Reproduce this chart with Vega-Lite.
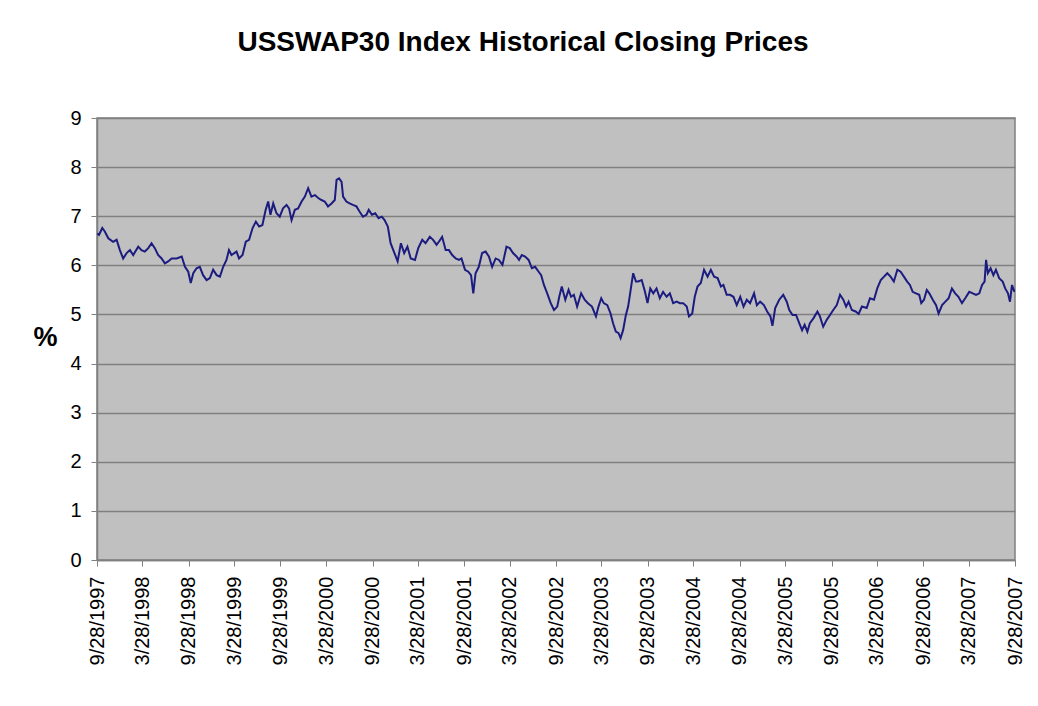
{
  "$schema": "https://vega.github.io/schema/vega-lite/v6.json",
  "autosize": {"type": "none"},
  "padding": {"left": 97, "top": 118, "right": 23, "bottom": 146},
  "width": 918,
  "height": 442,
  "background": "white",
  "title": {
    "text": "USSWAP30 Index Historical Closing Prices",
    "font": "Liberation Sans",
    "fontSize": 28,
    "fontWeight": "bold",
    "color": "black",
    "anchor": "middle",
    "dx": -33,
    "offset": 51
  },
  "config": {
    "view": {"fill": "#c0c0c0", "stroke": "#808080", "strokeWidth": 1.5},
    "axis": {"labelFont": "Liberation Sans", "titleFont": "Liberation Sans", "labelColor": "black"}
  },
  "data": {
    "values": [
      {"date": "1997-09-29", "rate": 6.65},
      {"date": "1997-10-06", "rate": 6.62},
      {"date": "1997-10-19", "rate": 6.76},
      {"date": "1997-10-29", "rate": 6.69},
      {"date": "1997-11-12", "rate": 6.55},
      {"date": "1997-12-01", "rate": 6.48},
      {"date": "1997-12-15", "rate": 6.52},
      {"date": "1997-12-28", "rate": 6.31},
      {"date": "1998-01-10", "rate": 6.14},
      {"date": "1998-01-24", "rate": 6.25},
      {"date": "1998-02-06", "rate": 6.31},
      {"date": "1998-02-19", "rate": 6.21},
      {"date": "1998-03-11", "rate": 6.38},
      {"date": "1998-03-24", "rate": 6.31},
      {"date": "1998-04-06", "rate": 6.28},
      {"date": "1998-04-20", "rate": 6.35},
      {"date": "1998-05-03", "rate": 6.45},
      {"date": "1998-05-16", "rate": 6.35},
      {"date": "1998-05-29", "rate": 6.21},
      {"date": "1998-06-12", "rate": 6.14},
      {"date": "1998-06-25", "rate": 6.04},
      {"date": "1998-07-08", "rate": 6.08},
      {"date": "1998-07-22", "rate": 6.14},
      {"date": "1998-08-11", "rate": 6.14},
      {"date": "1998-08-31", "rate": 6.18},
      {"date": "1998-09-13", "rate": 5.97},
      {"date": "1998-09-26", "rate": 5.87},
      {"date": "1998-10-06", "rate": 5.64},
      {"date": "1998-10-16", "rate": 5.84},
      {"date": "1998-10-29", "rate": 5.94},
      {"date": "1998-11-11", "rate": 5.97},
      {"date": "1998-11-24", "rate": 5.80},
      {"date": "1998-12-08", "rate": 5.70},
      {"date": "1998-12-21", "rate": 5.74},
      {"date": "1999-01-03", "rate": 5.91},
      {"date": "1999-01-17", "rate": 5.80},
      {"date": "1999-01-30", "rate": 5.77},
      {"date": "1999-02-12", "rate": 5.97},
      {"date": "1999-02-25", "rate": 6.11},
      {"date": "1999-03-07", "rate": 6.31},
      {"date": "1999-03-17", "rate": 6.21},
      {"date": "1999-04-06", "rate": 6.28},
      {"date": "1999-04-16", "rate": 6.14},
      {"date": "1999-04-30", "rate": 6.21},
      {"date": "1999-05-13", "rate": 6.48},
      {"date": "1999-05-26", "rate": 6.52},
      {"date": "1999-06-09", "rate": 6.76},
      {"date": "1999-06-22", "rate": 6.89},
      {"date": "1999-07-05", "rate": 6.79},
      {"date": "1999-07-18", "rate": 6.82},
      {"date": "1999-07-31", "rate": 7.13},
      {"date": "1999-08-10", "rate": 7.30},
      {"date": "1999-08-19", "rate": 7.03},
      {"date": "1999-08-30", "rate": 7.26},
      {"date": "1999-09-12", "rate": 7.06},
      {"date": "1999-09-25", "rate": 6.99},
      {"date": "1999-10-08", "rate": 7.16},
      {"date": "1999-10-22", "rate": 7.23},
      {"date": "1999-11-01", "rate": 7.16},
      {"date": "1999-11-11", "rate": 6.92},
      {"date": "1999-11-24", "rate": 7.13},
      {"date": "1999-12-07", "rate": 7.16},
      {"date": "1999-12-21", "rate": 7.30},
      {"date": "2000-01-03", "rate": 7.40},
      {"date": "2000-01-16", "rate": 7.57},
      {"date": "2000-01-29", "rate": 7.40},
      {"date": "2000-02-12", "rate": 7.43},
      {"date": "2000-02-25", "rate": 7.37},
      {"date": "2000-03-09", "rate": 7.33},
      {"date": "2000-03-22", "rate": 7.30},
      {"date": "2000-04-04", "rate": 7.20},
      {"date": "2000-04-18", "rate": 7.26},
      {"date": "2000-05-01", "rate": 7.33},
      {"date": "2000-05-08", "rate": 7.74},
      {"date": "2000-05-18", "rate": 7.77},
      {"date": "2000-05-28", "rate": 7.70},
      {"date": "2000-06-03", "rate": 7.40},
      {"date": "2000-06-16", "rate": 7.30},
      {"date": "2000-06-29", "rate": 7.26},
      {"date": "2000-07-12", "rate": 7.23},
      {"date": "2000-07-26", "rate": 7.20},
      {"date": "2000-08-08", "rate": 7.09},
      {"date": "2000-08-21", "rate": 6.99},
      {"date": "2000-09-04", "rate": 7.03},
      {"date": "2000-09-13", "rate": 7.13},
      {"date": "2000-09-26", "rate": 7.03},
      {"date": "2000-10-09", "rate": 7.06},
      {"date": "2000-10-22", "rate": 6.96},
      {"date": "2000-11-04", "rate": 6.99},
      {"date": "2000-11-15", "rate": 6.92},
      {"date": "2000-11-28", "rate": 6.79},
      {"date": "2000-12-09", "rate": 6.45},
      {"date": "2000-12-22", "rate": 6.28},
      {"date": "2001-01-06", "rate": 6.08},
      {"date": "2001-01-19", "rate": 6.45},
      {"date": "2001-02-01", "rate": 6.25},
      {"date": "2001-02-14", "rate": 6.38},
      {"date": "2001-02-27", "rate": 6.14},
      {"date": "2001-03-16", "rate": 6.11},
      {"date": "2001-03-29", "rate": 6.35},
      {"date": "2001-04-14", "rate": 6.52},
      {"date": "2001-04-27", "rate": 6.45},
      {"date": "2001-05-14", "rate": 6.58},
      {"date": "2001-05-27", "rate": 6.52},
      {"date": "2001-06-10", "rate": 6.42},
      {"date": "2001-06-19", "rate": 6.48},
      {"date": "2001-07-02", "rate": 6.58},
      {"date": "2001-07-16", "rate": 6.31},
      {"date": "2001-07-29", "rate": 6.31},
      {"date": "2001-08-11", "rate": 6.21},
      {"date": "2001-08-25", "rate": 6.14},
      {"date": "2001-09-07", "rate": 6.11},
      {"date": "2001-09-17", "rate": 6.14},
      {"date": "2001-10-01", "rate": 5.91},
      {"date": "2001-10-14", "rate": 5.87},
      {"date": "2001-10-25", "rate": 5.80},
      {"date": "2001-11-03", "rate": 5.43},
      {"date": "2001-11-12", "rate": 5.84},
      {"date": "2001-11-25", "rate": 5.97},
      {"date": "2001-12-08", "rate": 6.25},
      {"date": "2001-12-22", "rate": 6.28},
      {"date": "2002-01-04", "rate": 6.18},
      {"date": "2002-01-17", "rate": 5.97},
      {"date": "2002-01-31", "rate": 6.14},
      {"date": "2002-02-13", "rate": 6.11},
      {"date": "2002-02-27", "rate": 6.01},
      {"date": "2002-03-15", "rate": 6.38},
      {"date": "2002-03-28", "rate": 6.35},
      {"date": "2002-04-10", "rate": 6.25},
      {"date": "2002-04-24", "rate": 6.18},
      {"date": "2002-05-04", "rate": 6.11},
      {"date": "2002-05-15", "rate": 6.21},
      {"date": "2002-05-28", "rate": 6.18},
      {"date": "2002-06-11", "rate": 6.11},
      {"date": "2002-06-24", "rate": 5.94},
      {"date": "2002-07-07", "rate": 5.97},
      {"date": "2002-07-21", "rate": 5.87},
      {"date": "2002-07-31", "rate": 5.80},
      {"date": "2002-08-11", "rate": 5.60},
      {"date": "2002-08-24", "rate": 5.43},
      {"date": "2002-09-07", "rate": 5.23},
      {"date": "2002-09-20", "rate": 5.09},
      {"date": "2002-10-03", "rate": 5.16},
      {"date": "2002-10-11", "rate": 5.36},
      {"date": "2002-10-21", "rate": 5.57},
      {"date": "2002-11-04", "rate": 5.30},
      {"date": "2002-11-17", "rate": 5.50},
      {"date": "2002-11-27", "rate": 5.36},
      {"date": "2002-12-08", "rate": 5.40},
      {"date": "2002-12-21", "rate": 5.16},
      {"date": "2003-01-06", "rate": 5.43},
      {"date": "2003-01-20", "rate": 5.30},
      {"date": "2003-02-02", "rate": 5.23},
      {"date": "2003-02-18", "rate": 5.16},
      {"date": "2003-03-06", "rate": 4.96},
      {"date": "2003-03-16", "rate": 5.16},
      {"date": "2003-03-27", "rate": 5.33},
      {"date": "2003-04-06", "rate": 5.23},
      {"date": "2003-04-20", "rate": 5.19},
      {"date": "2003-05-03", "rate": 5.02},
      {"date": "2003-05-13", "rate": 4.82},
      {"date": "2003-05-24", "rate": 4.65},
      {"date": "2003-06-04", "rate": 4.62},
      {"date": "2003-06-12", "rate": 4.52},
      {"date": "2003-06-22", "rate": 4.68},
      {"date": "2003-07-03", "rate": 4.99},
      {"date": "2003-07-12", "rate": 5.16},
      {"date": "2003-07-22", "rate": 5.50},
      {"date": "2003-08-01", "rate": 5.84},
      {"date": "2003-08-12", "rate": 5.67},
      {"date": "2003-08-21", "rate": 5.67},
      {"date": "2003-09-04", "rate": 5.70},
      {"date": "2003-09-17", "rate": 5.46},
      {"date": "2003-09-27", "rate": 5.23},
      {"date": "2003-10-08", "rate": 5.53},
      {"date": "2003-10-20", "rate": 5.43},
      {"date": "2003-11-02", "rate": 5.53},
      {"date": "2003-11-15", "rate": 5.33},
      {"date": "2003-11-28", "rate": 5.46},
      {"date": "2003-12-12", "rate": 5.36},
      {"date": "2003-12-25", "rate": 5.43},
      {"date": "2004-01-07", "rate": 5.23},
      {"date": "2004-01-21", "rate": 5.26},
      {"date": "2004-02-03", "rate": 5.23},
      {"date": "2004-02-16", "rate": 5.23},
      {"date": "2004-03-01", "rate": 5.16},
      {"date": "2004-03-10", "rate": 4.96},
      {"date": "2004-03-23", "rate": 5.02},
      {"date": "2004-04-02", "rate": 5.36},
      {"date": "2004-04-13", "rate": 5.57},
      {"date": "2004-04-26", "rate": 5.64},
      {"date": "2004-05-09", "rate": 5.91},
      {"date": "2004-05-23", "rate": 5.77},
      {"date": "2004-06-05", "rate": 5.91},
      {"date": "2004-06-18", "rate": 5.77},
      {"date": "2004-07-02", "rate": 5.74},
      {"date": "2004-07-15", "rate": 5.57},
      {"date": "2004-07-25", "rate": 5.60},
      {"date": "2004-08-07", "rate": 5.40},
      {"date": "2004-08-20", "rate": 5.40},
      {"date": "2004-09-03", "rate": 5.36},
      {"date": "2004-09-16", "rate": 5.19},
      {"date": "2004-09-30", "rate": 5.36},
      {"date": "2004-10-13", "rate": 5.16},
      {"date": "2004-10-26", "rate": 5.30},
      {"date": "2004-11-08", "rate": 5.23},
      {"date": "2004-11-24", "rate": 5.43},
      {"date": "2004-12-05", "rate": 5.19},
      {"date": "2004-12-18", "rate": 5.26},
      {"date": "2005-01-02", "rate": 5.19},
      {"date": "2005-01-15", "rate": 5.06},
      {"date": "2005-01-28", "rate": 4.96},
      {"date": "2005-02-05", "rate": 4.77},
      {"date": "2005-02-16", "rate": 5.13},
      {"date": "2005-03-04", "rate": 5.30},
      {"date": "2005-03-20", "rate": 5.40},
      {"date": "2005-04-03", "rate": 5.26},
      {"date": "2005-04-13", "rate": 5.09},
      {"date": "2005-04-26", "rate": 4.99},
      {"date": "2005-05-10", "rate": 4.99},
      {"date": "2005-05-23", "rate": 4.82},
      {"date": "2005-06-03", "rate": 4.68},
      {"date": "2005-06-13", "rate": 4.79},
      {"date": "2005-06-24", "rate": 4.65},
      {"date": "2005-07-04", "rate": 4.82},
      {"date": "2005-07-18", "rate": 4.92},
      {"date": "2005-08-03", "rate": 5.06},
      {"date": "2005-08-13", "rate": 4.96},
      {"date": "2005-08-26", "rate": 4.75},
      {"date": "2005-09-09", "rate": 4.89},
      {"date": "2005-09-22", "rate": 4.99},
      {"date": "2005-10-05", "rate": 5.09},
      {"date": "2005-10-19", "rate": 5.19},
      {"date": "2005-11-01", "rate": 5.40},
      {"date": "2005-11-14", "rate": 5.30},
      {"date": "2005-11-25", "rate": 5.16},
      {"date": "2005-12-05", "rate": 5.26},
      {"date": "2005-12-18", "rate": 5.09},
      {"date": "2006-01-02", "rate": 5.06},
      {"date": "2006-01-14", "rate": 5.01},
      {"date": "2006-01-27", "rate": 5.16},
      {"date": "2006-02-15", "rate": 5.13},
      {"date": "2006-02-28", "rate": 5.33},
      {"date": "2006-03-16", "rate": 5.30},
      {"date": "2006-03-29", "rate": 5.53},
      {"date": "2006-04-12", "rate": 5.70},
      {"date": "2006-04-25", "rate": 5.77},
      {"date": "2006-05-08", "rate": 5.84},
      {"date": "2006-05-21", "rate": 5.77},
      {"date": "2006-06-03", "rate": 5.67},
      {"date": "2006-06-17", "rate": 5.91},
      {"date": "2006-06-30", "rate": 5.87},
      {"date": "2006-07-13", "rate": 5.77},
      {"date": "2006-07-26", "rate": 5.67},
      {"date": "2006-08-06", "rate": 5.60},
      {"date": "2006-08-17", "rate": 5.46},
      {"date": "2006-08-30", "rate": 5.43},
      {"date": "2006-09-12", "rate": 5.40},
      {"date": "2006-09-20", "rate": 5.23},
      {"date": "2006-10-01", "rate": 5.30},
      {"date": "2006-10-12", "rate": 5.50},
      {"date": "2006-10-22", "rate": 5.43},
      {"date": "2006-11-05", "rate": 5.30},
      {"date": "2006-11-18", "rate": 5.19},
      {"date": "2006-11-28", "rate": 5.02},
      {"date": "2006-12-12", "rate": 5.19},
      {"date": "2006-12-25", "rate": 5.26},
      {"date": "2007-01-07", "rate": 5.33},
      {"date": "2007-01-20", "rate": 5.53},
      {"date": "2007-02-02", "rate": 5.43},
      {"date": "2007-02-15", "rate": 5.36},
      {"date": "2007-03-01", "rate": 5.23},
      {"date": "2007-03-14", "rate": 5.33},
      {"date": "2007-03-30", "rate": 5.46},
      {"date": "2007-04-13", "rate": 5.43},
      {"date": "2007-04-26", "rate": 5.40},
      {"date": "2007-05-09", "rate": 5.43},
      {"date": "2007-05-20", "rate": 5.60},
      {"date": "2007-05-30", "rate": 5.67},
      {"date": "2007-06-05", "rate": 6.11},
      {"date": "2007-06-12", "rate": 5.84},
      {"date": "2007-06-23", "rate": 5.94},
      {"date": "2007-07-04", "rate": 5.80},
      {"date": "2007-07-14", "rate": 5.91},
      {"date": "2007-07-27", "rate": 5.74},
      {"date": "2007-08-10", "rate": 5.67},
      {"date": "2007-08-20", "rate": 5.53},
      {"date": "2007-08-31", "rate": 5.43},
      {"date": "2007-09-08", "rate": 5.26},
      {"date": "2007-09-16", "rate": 5.60},
      {"date": "2007-09-26", "rate": 5.46}
    ]
  },
  "mark": {"type": "line", "color": "#1c1c80", "strokeWidth": 2, "clip": true},
  "encoding": {
    "x": {
      "field": "date",
      "type": "temporal",
      "scale": {
        "type": "utc",
        "domain": [
          {"year": 1997, "month": 9, "date": 28, "utc": true},
          {"year": 2007, "month": 9, "date": 28, "utc": true}
        ]
      },
      "axis": {
        "title": null,
        "values": [
          {"year": 1997, "month": 9, "date": 28, "utc": true},
          {"year": 1998, "month": 3, "date": 28, "utc": true},
          {"year": 1998, "month": 9, "date": 28, "utc": true},
          {"year": 1999, "month": 3, "date": 28, "utc": true},
          {"year": 1999, "month": 9, "date": 28, "utc": true},
          {"year": 2000, "month": 3, "date": 28, "utc": true},
          {"year": 2000, "month": 9, "date": 28, "utc": true},
          {"year": 2001, "month": 3, "date": 28, "utc": true},
          {"year": 2001, "month": 9, "date": 28, "utc": true},
          {"year": 2002, "month": 3, "date": 28, "utc": true},
          {"year": 2002, "month": 9, "date": 28, "utc": true},
          {"year": 2003, "month": 3, "date": 28, "utc": true},
          {"year": 2003, "month": 9, "date": 28, "utc": true},
          {"year": 2004, "month": 3, "date": 28, "utc": true},
          {"year": 2004, "month": 9, "date": 28, "utc": true},
          {"year": 2005, "month": 3, "date": 28, "utc": true},
          {"year": 2005, "month": 9, "date": 28, "utc": true},
          {"year": 2006, "month": 3, "date": 28, "utc": true},
          {"year": 2006, "month": 9, "date": 28, "utc": true},
          {"year": 2007, "month": 3, "date": 28, "utc": true},
          {"year": 2007, "month": 9, "date": 28, "utc": true}
        ],
        "format": "%-m/%-d/%Y",
        "labelAngle": -90,
        "labelAlign": "right",
        "labelBaseline": "middle",
        "labelFontSize": 20,
        "labelPadding": 10,
        "labelOverlap": false,
        "labelBound": false,
        "labelFlush": false,
        "grid": false,
        "domainColor": "#808080",
        "domainWidth": 1.5,
        "tickColor": "#808080",
        "tickSize": 6,
        "tickWidth": 1
      }
    },
    "y": {
      "field": "rate",
      "type": "quantitative",
      "scale": {"domain": [0, 9], "nice": false, "zero": true},
      "axis": {
        "title": "%",
        "titleAngle": 0,
        "titleFontSize": 27,
        "titleFontWeight": "bold",
        "titleColor": "black",
        "titleX": -52,
        "titleY": 233,
        "titleAlign": "center",
        "values": [0, 1, 2, 3, 4, 5, 6, 7, 8, 9],
        "labelFontSize": 20,
        "labelPadding": 10,
        "grid": true,
        "gridColor": "#808080",
        "gridWidth": 1.5,
        "domainColor": "#808080",
        "domainWidth": 1.5,
        "tickColor": "#808080",
        "tickSize": 6
      }
    }
  }
}
